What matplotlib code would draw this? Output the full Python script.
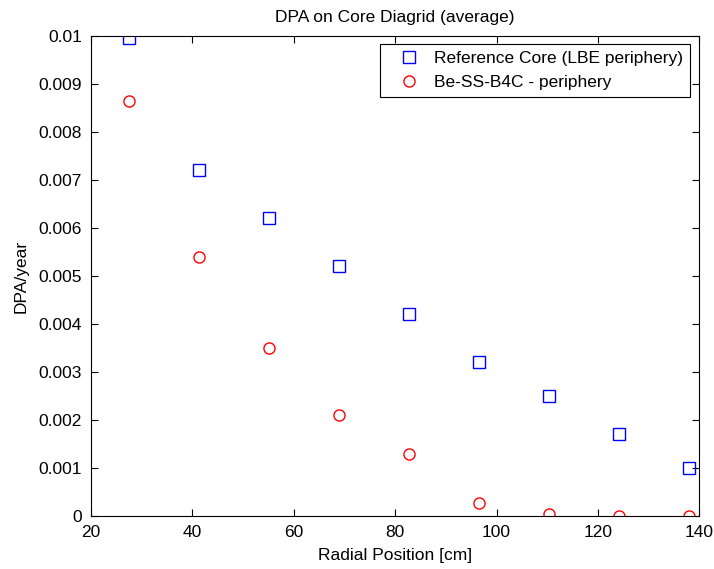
import matplotlib.pyplot as plt

plt.rcParams['font.family'] = ['Liberation Sans', 'DejaVu Sans']
plt.rcParams['font.size'] = 12.5

radial_pos = [27.5, 41.3, 55.1, 68.9, 82.7, 96.5, 110.3, 124.1, 137.9]
dpa_reference = [0.00996, 0.0072, 0.0062, 0.0052, 0.0042, 0.0032, 0.0025, 0.0017, 0.0010]
dpa_be_ss_b4c = [0.00865, 0.0054, 0.0035, 0.0021, 0.0013, 0.00028, 0.00005, 0.00001, 0.00001]

fig = plt.figure(figsize=(7.14, 5.69), dpi=100)
ax = fig.add_axes([0.1275, 0.0931, 0.852, 0.8436])

ax.plot(radial_pos, dpa_reference, 's', mfc='none', mec='blue', ms=8, mew=1,
        label='Reference Core (LBE periphery)')
ax.plot(radial_pos, dpa_be_ss_b4c, 'o', mfc='none', mec='red', ms=8, mew=1,
        label='Be-SS-B4C - periphery')

ax.set_xlim(20, 140)
ax.set_ylim(0, 0.01)
ax.set_xticks(range(20, 141, 20))
ax.set_yticks([i / 1000 for i in range(11)])
ax.set_yticklabels(['0'] + ['%g' % (i / 1000) for i in range(1, 11)])
ax.tick_params(direction='in', top=True, right=True, length=5, labelsize=12.5, pad=6.5)
for s in ax.spines.values():
    s.set_linewidth(0.8)

ax.set_xlabel('Radial Position [cm]', fontsize=12.5, labelpad=6)
ax.set_ylabel('DPA/year', fontsize=12.5, labelpad=7)
ax.set_title('DPA on Core Diagrid (average)', fontsize=12.5, pad=10)

leg = ax.legend(loc='upper right', bbox_to_anchor=(0.985, 0.983), borderaxespad=0,
                fancybox=False, edgecolor='black', framealpha=1, fontsize=12.5,
                borderpad=0.4, handlelength=2.5, handletextpad=0.2, labelspacing=0.5)
leg.get_frame().set_linewidth(0.8)

fig.savefig('out.png', dpi=100)
